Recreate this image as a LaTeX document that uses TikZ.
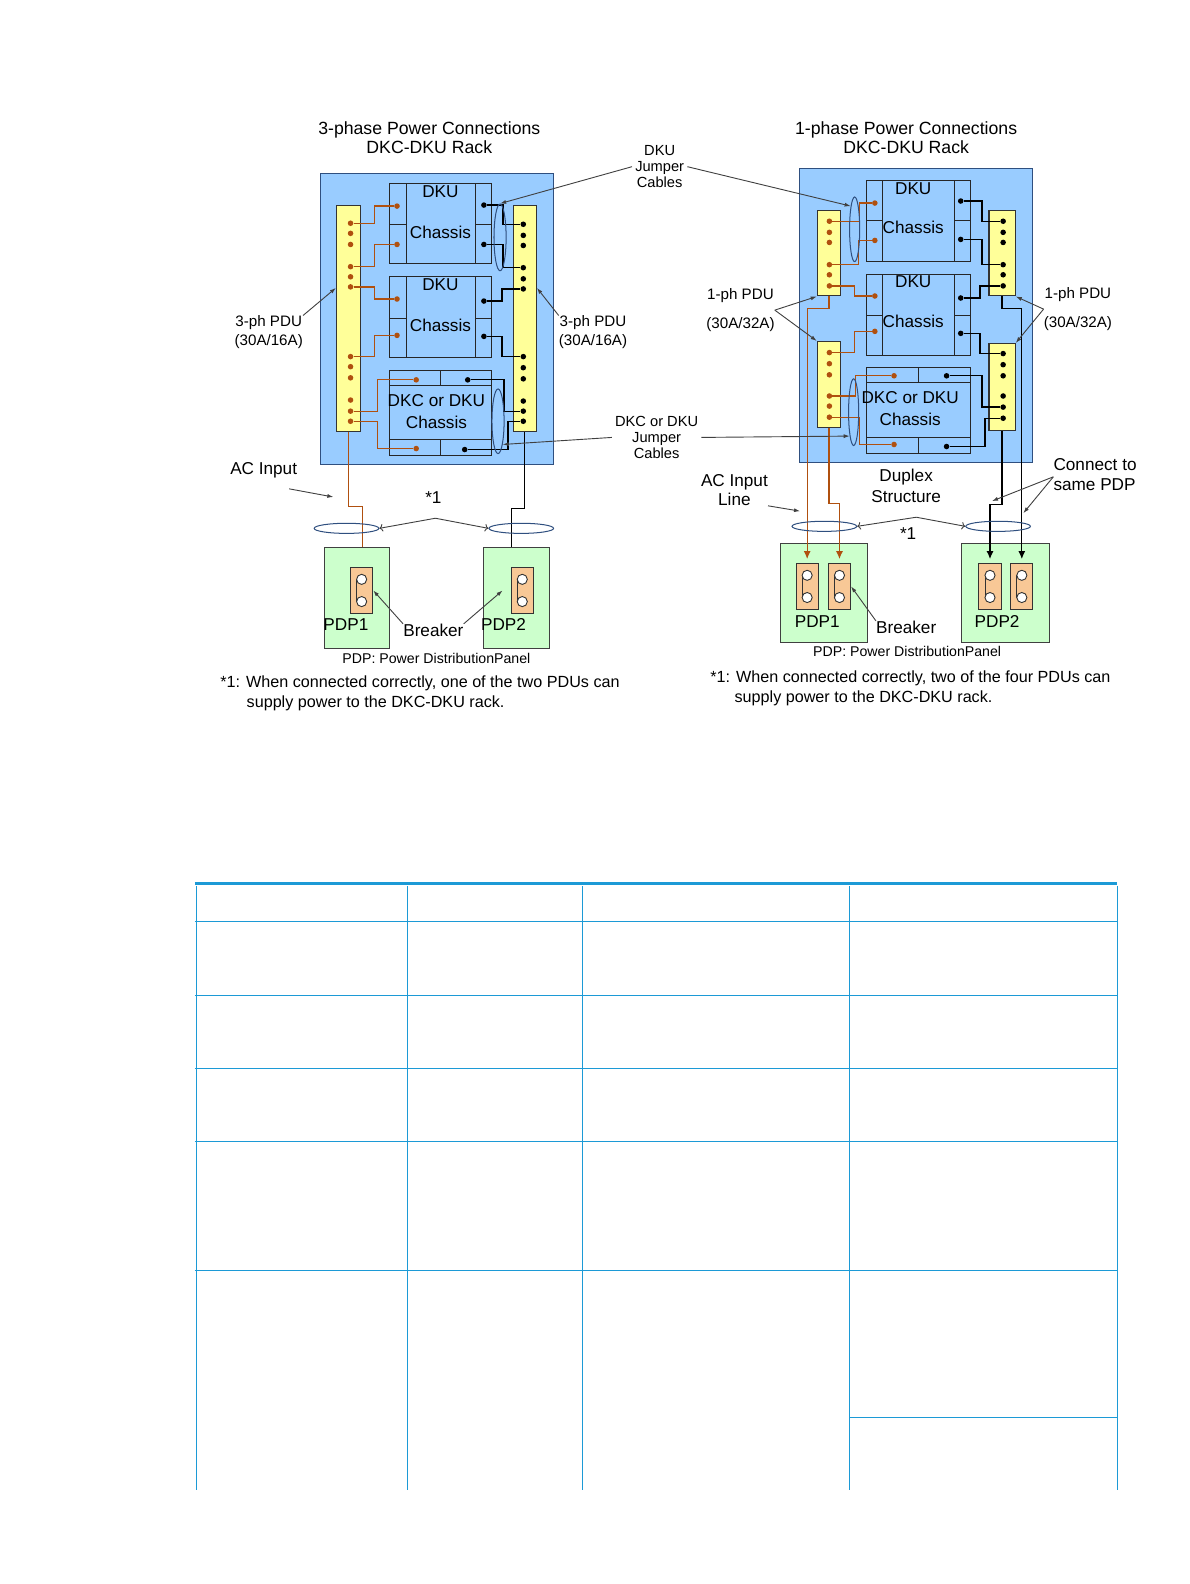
\documentclass[tikz,border=0pt]{standalone}
\usepackage{fontspec}
\setmainfont{Liberation Sans}
\usetikzlibrary{arrows.meta,calc,shapes.geometric}

\definecolor{rackblue}{HTML}{99CCFF}
\definecolor{rackline}{HTML}{2F4F7F}
\definecolor{pduyellow}{HTML}{FFFF99}
\definecolor{wirebrown}{HTML}{B0500F}
\definecolor{pdpgreen}{HTML}{CCFFCC}
\definecolor{brkorange}{HTML}{F8C896}
\definecolor{tabblue}{HTML}{1C9AD6}

\newcommand{\fs}[1]{\fontsize{#1}{#1}\selectfont}

% DKU chassis: x1, y1, x2, y2, split
\newcommand{\dkubox}[5]{%
  \draw[chbox] (#1,#2) rectangle (#3,#4);
  \draw[chbox] ({#1+16},#2) -- ({#1+16},#4) ({#3-16},#2) -- ({#3-16},#4);
  \draw[chbox] (#1,#5) -- ({#1+16},#5) ({#3-16},#5) -- (#3,#5);
}
% DKC/DKU chassis: x1, y1, x2, y2
\newcommand{\dkcbox}[4]{%
  \draw[chbox] (#1,#2) rectangle (#3,#4);
  \draw[chbox] (#1,{#2+15}) -- (#3,{#2+15}) (#1,{#4-16}) -- (#3,{#4-16});
  \draw[chbox] ({(#1+#3)/2},#2) -- ({(#1+#3)/2},{#2+15});
  \draw[chbox] ({(#1+#3)/2},{#4-16}) -- ({(#1+#3)/2},#4);
}

\begin{document}
\begin{tikzpicture}[x=1pt, y=-1pt,
    rack/.style={rectangle, draw=rackline, fill=rackblue, line width=1pt},
    pdu/.style={rectangle, draw=black!80, fill=pduyellow, line width=1pt},
    chbox/.style={draw=black!85, line width=1pt},
    rdot/.style={circle, fill=wirebrown, inner sep=0pt, minimum size=5.5pt},
    kdot/.style={circle, fill=black, inner sep=0pt, minimum size=5.5pt},
    bwire/.style={draw=wirebrown, line width=1.3pt},
    kwire/.style={draw=black, line width=1.3pt},
    jloop/.style={ellipse, draw=rackline, line width=1pt, inner sep=0pt},
    pdp/.style={rectangle, draw=black!75, fill=pdpgreen, line width=1pt},
    brk/.style={rectangle, draw=black!80, fill=brkorange, line width=1pt,
        minimum width=22pt, minimum height=45pt},
    ptr/.style={-{Latex[length=6pt,width=4pt]}, draw=black!75, line width=0.9pt},
    lbl/.style={inner sep=0pt, align=center, font=\fs{17}},
    sml/.style={inner sep=0pt, align=center, font=\fs{15}},
    note/.style={inner sep=0pt, align=left, font=\fs{16}}
]
\useasboundingbox (0,0) rectangle (1177,1568);

% ---------- 3-phase (left) ----------
\node[lbl, font=\fs{17.5}] (titleL) at (425,136) {3-phase Power Connections\\[1pt]DKC-DKU Rack};
\node[rack, minimum width=231pt, minimum height=288pt] (rackL) at (432.5,316) {};
\node[pdu, minimum width=24pt, minimum height=224pt] (pduL) at (345,315) {};
\node[pdu, minimum width=23pt, minimum height=224pt] (pduR) at (519.5,315) {};

\dkubox{386}{182}{487}{261}{222}
\dkubox{386}{274}{487}{354}{315}
\dkcbox{386}{367}{487}{451}
\node[lbl] at (436,190) {DKU};
\node[lbl] at (436,230) {Chassis};
\node[lbl] at (436,282) {DKU};
\node[lbl] at (436,322) {Chassis};
\node[lbl] at (432,397) {DKC or DKU};
\node[lbl] at (432,418) {Chassis};

\foreach \y [count=\i] in {221,231,242,264,274,284,353,363,374,396,407,417}
    \node[rdot] (lp\i) at (347,\y) {};
\foreach \y [count=\i] in {222,233,243,265,276,286,353,364,375,397,407,417}
    \node[kdot] (rp\i) at (518,\y) {};
\node[rdot] (lc1) at (393,204) {};
\node[rdot] (lc2) at (393,242) {};
\node[rdot] (lc3) at (393,296) {};
\node[rdot] (lc4) at (393,332) {};
\node[rdot] (lc5) at (412,376) {};
\node[rdot] (lc6) at (412,444) {};
\node[kdot] (kc1) at (479,203) {};
\node[kdot] (kc2) at (479,242) {};
\node[kdot] (kc3) at (479,298) {};
\node[kdot] (kc4) at (479,333) {};
\node[kdot] (kc5) at (463,376) {};
\node[kdot] (kc6) at (460,445) {};

\draw[bwire] (lp1) -- ++(24,0) |- (lc1);
\draw[bwire] (lp4) -- ++(24,0) |- (lc2);
\draw[bwire] (lp6) -- ++(24,0) |- (lc3);
\draw[bwire] (lp7) -- ++(24,0) |- (lc4);
\draw[bwire] (lp11) -- ++(27,0) |- (lc5);
\draw[bwire] (lp12) -- ++(27,0) |- (lc6);
\draw[kwire] (kc1) -- ++(19,0) |- (rp1);
\draw[kwire] (kc2) -- ++(19,0) |- (rp4);
\draw[kwire] (kc3) -- ++(18,0) |- (rp6);
\draw[kwire] (kc4) -- ++(18,0) |- (rp7);
\draw[kwire] (kc5) -- ++(36,0) |- (rp11);
\draw[kwire] (kc6) -- ++(43,0) |- (rp12);

\node[jloop, minimum width=12pt, minimum height=66pt] (jL1) at (495,235) {};
\node[jloop, minimum width=12pt, minimum height=64pt] (jL2) at (493,417) {};

% feeds and PDPs
\node[pdp, minimum width=65pt, minimum height=100pt] (pdpL1) at (353.5,592) {};
\node[pdp, minimum width=65pt, minimum height=100pt] (pdpL2) at (511.5,592) {};
\draw[bwire] (pduL.south) -- ++(0,74) -| ([xshift=5pt]pdpL1.north);
\draw[kwire] (pduR.south) -- ++(0,76) -| ([xshift=-5.5pt]pdpL2.north);
\node[jloop, minimum width=64pt, minimum height=10pt] (aL1) at (343,523) {};
\node[jloop, minimum width=64pt, minimum height=10pt] (aL2) at (516,523) {};
\node[brk] (brkL1) at (358,584.5) {};
\node[brk] (brkL2) at (517,584.5) {};
\node[lbl, anchor=west] (pdpL1t) at (320,618) {PDP1};
\node[lbl, anchor=west] (pdpL2t) at (476,618) {PDP2};

% labels and pointers
\node[sml, font=\fs{14.5}] (jcA) at (653,165) {DKU\\[1pt]Jumper\\[1pt]Cables};
\node[sml] (ph3L) at (266,329) {3-ph PDU\\[4pt](30A/16A)};
\node[sml] (ph3R) at (587,329) {3-ph PDU\\[4pt](30A/16A)};
\node[sml, font=\fs{14.5}] (jcB) at (650,433) {DKC or DKU\\[1pt]Jumper\\[1pt]Cables};
\node[lbl] (acL) at (261,466) {AC Input};
\node[lbl] (starL) at (429,493) {*1};
\node[lbl] (brL) at (429,624) {Breaker};
\node[sml, font=\fs{14}] (noteL) at (432,652) {PDP: Power DistributionPanel};
\node[note, anchor=north west] (footL) at (218,669) {*1: When connected correctly, one of the two PDUs can\\[4pt]\hspace{26pt}supply power to the DKC-DKU rack.};
\coordinate (acTipL) at (330,492);
\coordinate (peakL) at (431,513);

\draw[ptr] ([xshift=-3pt]jcA.west) -- (jL1.north);
\draw[ptr] (ph3L.north east) -- ($(pduL.west)+(0,-30)$);
\draw[ptr] (ph3R.north west) -- ($(pduR.east)+(0,-30)$);
\draw[ptr] ([xshift=-3pt]jcB.west) -- (jL2.south east);
\draw[ptr] ([xshift=-8pt]acL.south east) ++(0,10) -- (acTipL);
\draw[ptr, <->] (aL1.east) -- (peakL) -- (aL2.west);
\draw[ptr] (brL.north west) -- (brkL1.east);
\draw[ptr] (brL.north east) -- ([xshift=-8pt]brkL2.west);

% ---------- 1-phase (right) ----------
\node[lbl, font=\fs{17.5}] (titleR) at (897,136) {1-phase Power Connections\\[1pt]DKC-DKU Rack};
\node[rack, minimum width=231pt, minimum height=291pt] (rackR) at (906.5,312.5) {};
\node[pdu, minimum width=23pt, minimum height=85pt] (ulpdu) at (820.5,250.5) {};
\node[pdu, minimum width=23pt, minimum height=85pt] (llpdu) at (820.5,380.5) {};
\node[pdu, minimum width=26pt, minimum height=85pt] (urpdu) at (992,250.5) {};
\node[pdu, minimum width=26pt, minimum height=86pt] (lrpdu) at (992,383) {};

\dkubox{858}{179}{961}{259}{218}
\dkubox{858}{272}{961}{352}{312}
\dkcbox{858}{364}{961}{449}
\node[lbl] at (904,187) {DKU};
\node[lbl] at (904,225) {Chassis};
\node[lbl] at (904,279) {DKU};
\node[lbl] at (904,318) {Chassis};
\node[lbl] at (901,394) {DKC or DKU};
\node[lbl] at (901,415) {Chassis};

\foreach \y [count=\i] in {219,230,240,262,272,283}
    \node[rdot] (up\i) at (821,\y) {};
\foreach \y [count=\i] in {349,360,371,392,402,413}
    \node[rdot] (dp\i) at (821,\y) {};
\foreach \y [count=\i] in {219,230,240,262,272,283}
    \node[kdot] (uq\i) at (993,\y) {};
\foreach \y [count=\i] in {350,361,372,392,403,414}
    \node[kdot] (dq\i) at (993,\y) {};
\node[rdot] (rc1) at (866,201) {};
\node[rdot] (rc2) at (866,238) {};
\node[rdot] (rc3) at (866,293) {};
\node[rdot] (rc4) at (866,328) {};
\node[rdot] (rc5) at (885,372) {};
\node[rdot] (rc6) at (885,440) {};
\node[kdot] (qc1) at (951,199) {};
\node[kdot] (qc2) at (951,237) {};
\node[kdot] (qc3) at (951,295) {};
\node[kdot] (qc4) at (951,330) {};
\node[kdot] (qc5) at (937,372) {};
\node[kdot] (qc6) at (937,442) {};

\draw[bwire] (up1) -- ++(30,0) |- (rc1);
\draw[bwire] (up4) -- ++(29,0) |- (rc2);
\draw[bwire] (up6) -- ++(25,0) |- (rc3);
\draw[bwire] (dp1) -- ++(25,0) |- (rc4);
\draw[bwire] (dp4) -- ++(26,0) |- (rc5);
\draw[bwire] (dp6) -- ++(30,0) |- (rc6);
\draw[kwire] (qc1) -- ++(21,0) |- (uq1);
\draw[kwire] (qc2) -- ++(21,0) |- (uq4);
\draw[kwire] (qc3) -- ++(19,0) |- (uq6);
\draw[kwire] (qc4) -- ++(19,0) |- (dq1);
\draw[kwire] (qc5) -- ++(35,0) |- (dq5);
\draw[kwire] (qc6) -- ++(38,0) |- (dq6);

\node[jloop, minimum width=10pt, minimum height=64pt] (jR1) at (846,227) {};
\node[jloop, minimum width=10pt, minimum height=66pt] (jR2) at (845,408) {};

% feeds and PDPs
\node[pdp, minimum width=86pt, minimum height=98pt] (pdpR1) at (816,587) {};
\node[pdp, minimum width=87pt, minimum height=98pt] (pdpR2) at (995.5,587) {};
\node[brk] (brk1) at (799,580.5) {};
\node[brk] (brk2) at (831,580.5) {};
\node[brk] (brk3) at (980,580.5) {};
\node[brk] (brk4) at (1011.5,580.5) {};
\draw[bwire, -{Latex[length=8pt,width=7pt]}] (ulpdu.south) -- ++(0,12) -| ([yshift=4pt]brk1.north);
\draw[bwire, -{Latex[length=8pt,width=7pt]}] (llpdu.south) -- ++(0,75) -| ([yshift=4pt]brk2.north);
\draw[kwire, -{Latex[length=8pt,width=7pt]}] (urpdu.south) -- ++(0,12) -| ([yshift=4pt]brk4.north);
\draw[kwire, -{Latex[length=8pt,width=7pt]}] (lrpdu.south) -- ++(0,73) -| ([yshift=4pt]brk3.north);
\node[jloop, minimum width=64pt, minimum height=10pt] (aR1) at (816,521) {};
\node[jloop, minimum width=64pt, minimum height=10pt] (aR2) at (988,521) {};
\node[lbl] (pdpR1t) at (809,615) {PDP1};
\node[lbl] (pdpR2t) at (987,615) {PDP2};

% labels and pointers
\node[sml] (ph1L) at (733,307) {1-ph PDU\\[13pt](30A/32A)};
\node[sml] (ph1R) at (1067,306) {1-ph PDU\\[13pt](30A/32A)};
\node[lbl] (acR) at (727,485) {AC Input\\[2pt]Line};
\node[lbl] (dup) at (897,481) {Duplex\\[3pt]Structure};
\node[lbl] (starR) at (899,528) {*1};
\node[lbl, align=left] (conR) at (1084,470) {Connect to\\[3pt]same PDP};
\node[lbl] (brR) at (897,621) {Breaker};
\node[sml, font=\fs{14}] (noteR) at (898,645) {PDP: Power DistributionPanel};
\node[note, anchor=north west] (footR) at (703,664) {*1: When connected correctly, two of the four PDUs can\\[4pt]\hspace{24pt}supply power to the DKC-DKU rack.};
\coordinate (acTipR) at (792,506);
\coordinate (peakR) at (907,512);
\coordinate (conTip1) at (982,496);
\coordinate (conTip2) at (1013,508);

\draw[ptr] ([xshift=3pt]jcA.east) -- (jR1.north west);
\draw[ptr] ([xshift=3pt]jcB.east) -- (jR2.south west);
\draw[ptr] (ph1L.east) -- (ulpdu.south west);
\draw[ptr] (ph1L.east) -- (llpdu.north west);
\draw[ptr] (ph1R.west) -- (urpdu.south east);
\draw[ptr] (ph1R.west) -- (lrpdu.north east);
\draw[ptr] (acR.south east) -- (acTipR);
\draw[ptr, <->] (aR1.east) -- (peakR) -- (aR2.west);
\draw[ptr] ([yshift=-2pt]conR.west) -- (conTip1);
\draw[ptr] ([yshift=-2pt]conR.west) -- (conTip2);
\draw[ptr] (brR.north west) -- (brk2.east);

% breaker faces
\foreach \b in {brkL1,brkL2,brk1,brk2,brk3,brk4} {
    \draw[black!80, line width=0.9pt] (\b) ++(-5,-11) -- ++(0,22);
    \draw[black!80, fill=white, line width=0.9pt] (\b) ++(0,-11) circle[radius=5pt] ++(0,22) circle[radius=5pt];
}

% ---------- table grid ----------
\draw[tabblue, line width=3pt] (193,875) -- (1106,875);
\draw[tabblue, line width=1.5pt] (193,912) -- (1106,912);
\foreach \y in {985,1058,1130,1258}
    \draw[tabblue, line width=0.8pt] (193,\y) -- (1106,\y);
\draw[tabblue, line width=0.8pt] (841,1403) -- (1106,1403);
\foreach \x in {194,403,577,841,1106}
    \draw[tabblue, line width=0.8pt] (\x,877) -- (\x,1475);
\end{tikzpicture}
\end{document}
